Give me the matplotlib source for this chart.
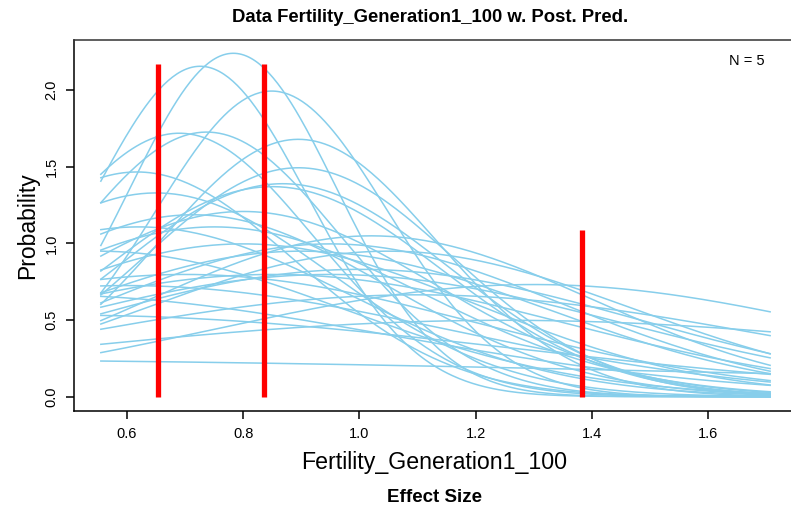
import numpy as np
import matplotlib
matplotlib.use("Agg")
import matplotlib.pyplot as plt

plt.rcParams["font.family"] = ["Liberation Sans", "DejaVu Sans"]

# posterior predictive curves (mean, sd)
curve_means = [0.783, 0.726, 0.849, 0.690, 0.737, 0.895, 0.617, 0.895,
               0.868, 0.850, 0.714, 1.020, 1.300, 1.250, 0.100, 0.620,
               0.800, 0.550, 0.900, 1.000, 0.950, 0.850, 0.700, 0.600,
               1.100, 0.500, 0.750, 0.650, 0.800, 0.950, 1.050, 0.450]
curve_sds = [0.178, 0.185, 0.200, 0.232, 0.231, 0.2375, 0.272, 0.267,
             0.287, 0.291, 0.336, 0.380, 0.545, 0.800, 1.650, 0.360,
             0.400, 0.420, 0.420, 0.480, 0.500, 0.500, 0.500, 0.550,
             0.600, 0.750, 0.360, 0.300, 0.330, 0.400, 0.420, 0.600]
x_from = 0.555
x_to = 1.707

# observed data (red bars)
obs_x = [0.654, 0.835, 1.384]
obs_h = [2.17, 2.17, 1.085]

x_ticks = [0.6, 0.8, 1.0, 1.2, 1.4, 1.6]
y_ticks = [0.0, 0.5, 1.0, 1.5, 2.0]

fig = plt.figure(figsize=(7.91, 5.15), dpi=100)
# the plot box runs past the right edge of the image, as in the original
ax = fig.add_axes([74 / 791, 104.3 / 515, 724 / 791, 370.7 / 515])

xs = np.linspace(x_from, x_to, 300)
for m, s in zip(curve_means, curve_sds):
    dens = np.exp(-0.5 * ((xs - m) / s) ** 2) / (s * np.sqrt(2 * np.pi))
    ax.plot(xs, dens, color="#87CEEB", lw=1.1)

ax.vlines(obs_x, 0, obs_h, color="#FF0000", lw=3.8)

ax.set_xlim(0.5088, 1.755)
ax.set_ylim(-0.0914, 2.328)
ax.set_xticks(x_ticks)
ax.set_xticklabels([f"{v:.1f}" for v in x_ticks], fontsize=10.5)
ax.set_yticks(y_ticks)
ax.set_yticklabels([f"{v:.1f}" for v in y_ticks], fontsize=10.5,
                   rotation=90, va="center")
ax.tick_params(axis="x", length=6, width=1.1, pad=6)
ax.tick_params(axis="y", length=6, width=1.1, pad=5)
for sp in ax.spines.values():
    sp.set_linewidth(1.1)
ax.spines["top"].set_color("#333333")

ax.text(0.9296, 0.944, "N = 5", transform=ax.transAxes,
        ha="center", va="center", fontsize=10.5)

fig.text(430 / 791, 1 - 18 / 515, "Data Fertility_Generation1_100 w. Post. Pred.",
         ha="center", va="center", fontsize=13.3, fontweight="bold")
fig.text(434.5 / 791, 1 - 462 / 515, "Fertility_Generation1_100",
         ha="center", va="center", fontsize=16.7)
fig.text(434.5 / 791, 1 - 498 / 515, "Effect Size",
         ha="center", va="center", fontsize=13.5, fontweight="bold")
fig.text(28 / 791, 1 - 226 / 515, "Probability", rotation=90,
         ha="center", va="center", fontsize=16.5)

fig.savefig("out.png", dpi=100)
